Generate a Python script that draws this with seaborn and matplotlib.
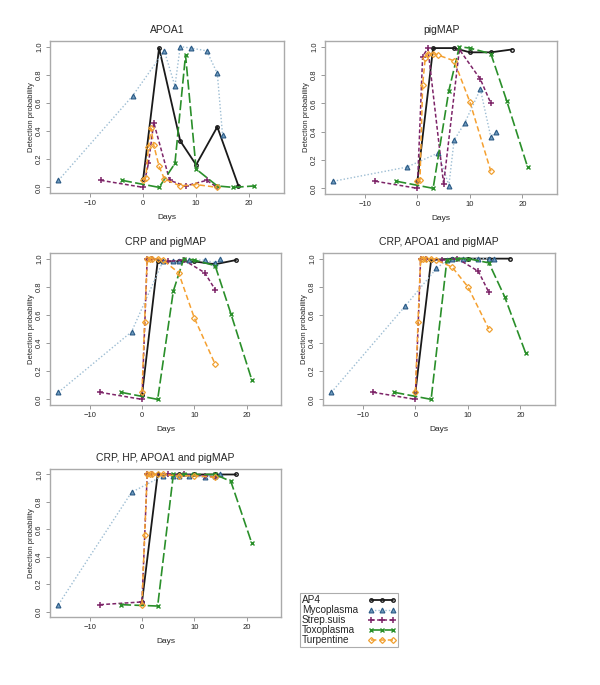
import pandas as pd
import seaborn as sns
from matplotlib import pyplot as plt
from matplotlib.offsetbox import DrawingArea

# dias de muestreo por grupo
days_ap4 = [0, 3, 7, 10, 14, 18]
days_myco = [-16, -2, 4, 6, 7, 9, 12, 14, 15]
days_strep = [-8, 0, 1, 2, 5, 8, 12, 14]
days_toxo = [-4, 3, 6, 8, 10, 14, 17, 21]
days_turp = [0, 0.5, 1, 1.5, 2, 3, 4, 7, 10, 14]

titles = ["APOA1", "pigMAP", "CRP and pigMAP",
          "CRP, APOA1 and pigMAP", "CRP, HP, APOA1 and pigMAP"]

# probabilidades (una lista por panel)
ap4_vals = [
    [0.06, 0.99, 0.33, 0.16, 0.43, 0.01],
    [0.05, 0.99, 0.99, 0.96, 0.96, 0.98],
    [0.03, 0.98, 0.98, 0.98, 0.96, 0.99],
    [0.05, 0.99, 1.0, 1.0, 1.0, 1.0],
    [0.07, 1.0, 1.0, 1.0, 1.0, 1.0],
]
myco_vals = [
    [0.05, 0.65, 0.97, 0.72, 1.0, 0.99, 0.97, 0.81, 0.37],
    [0.05, 0.15, 0.25, 0.02, 0.34, 0.46, 0.70, 0.36, 0.40],
    [0.05, 0.48, 0.98, 0.98, 0.98, 0.99, 0.99, 0.97, 1.0],
    [0.05, 0.66, 0.93, 0.99, 1.0, 1.0, 1.0, 1.0, 1.0],
    [0.05, 0.87, 0.99, 0.99, 0.99, 0.99, 0.98, 0.99, 1.0],
]
strep_vals = [
    [0.05, 0.0, 0.17, 0.46, 0.05, 0.01, 0.05, 0.0],
    [0.05, 0.0, 0.93, 0.99, 0.03, 0.98, 0.77, 0.60],
    [0.05, 0.0, 1.0, 1.0, 0.98, 0.99, 0.90, 0.78],
    [0.05, 0.0, 1.0, 1.0, 0.99, 1.0, 0.91, 0.76],
    [0.05, 0.07, 1.0, 1.0, 1.0, 1.0, 0.99, 0.98],
]
toxo_vals = [
    [0.05, 0.0, 0.17, 0.94, 0.13, 0.01, 0.0, 0.01],
    [0.05, 0.0, 0.69, 1.0, 0.99, 0.95, 0.62, 0.15],
    [0.05, 0.0, 0.77, 1.0, 0.99, 0.95, 0.61, 0.14],
    [0.05, 0.0, 0.99, 1.0, 1.0, 0.97, 0.73, 0.33],
    [0.05, 0.04, 1.0, 1.0, 1.0, 1.0, 0.95, 0.50],
]
turp_vals = [
    [0.05, 0.07, 0.29, 0.42, 0.30, 0.15, 0.06, 0.01, 0.02, 0.0],
    [0.05, 0.06, 0.73, 0.92, 0.95, 0.95, 0.94, 0.90, 0.61, 0.12],
    [0.05, 0.55, 1.0, 1.0, 1.0, 1.0, 0.99, 0.90, 0.58, 0.25],
    [0.05, 0.55, 1.0, 1.0, 1.0, 1.0, 0.99, 0.94, 0.80, 0.50],
    [0.05, 0.56, 1.0, 1.0, 1.0, 1.0, 1.0, 0.99, 0.99, 0.98],
]

series = [
    ("AP4", days_ap4, ap4_vals,
     dict(color="#1a1a1a", marker="o", ms=2.5, mfc="none", mec="#1a1a1a", mew=1.0, lw=1.3, ls="-")),
    ("Mycoplasma", days_myco, myco_vals,
     dict(color="#9dbdd3", marker="^", ms=3.5, mfc="#6f9cc0", mec="#2b5a85", mew=0.8, lw=1.0, ls=(0, (1, 1.5)))),
    ("Strep.suis", days_strep, strep_vals,
     dict(color="#7d2468", marker="+", ms=4.5, mec="#7d2468", mew=1.1, lw=1.1, ls=(0, (2.5, 1.5)))),
    ("Toxoplasma", days_toxo, toxo_vals,
     dict(color="#2a8f2a", marker="x", ms=3.5, mec="#2a8f2a", mew=1.0, lw=1.2, ls=(0, (6, 2)))),
    ("Turpentine", days_turp, turp_vals,
     dict(color="#f5a030", marker="D", ms=3, mfc="none", mec="#f0a030", mew=0.9, lw=1.1, ls=(0, (3.5, 2)))),
]

sns.set_theme(style="ticks")
plt.rcParams["font.family"] = ["Liberation Sans", "DejaVu Sans"]

fig = plt.figure(figsize=(6, 6.85), dpi=100)
W, H = 600, 685
boxes = [(50, 41, 284, 193), (325, 41, 557, 194), (50, 253, 281, 405),
         (323, 253, 555, 405), (50, 469, 281, 617)]

axes = []
for i, (l, t, r, b) in enumerate(boxes):
    ax = fig.add_axes([l / W, 1 - b / H, (r - l) / W, (b - t) / H])
    for nombre, dias, vals, estilo in series:
        sns.lineplot(x=dias, y=vals[i], ax=ax, label=nombre, legend=False, **estilo)
    ax.set_xlim(-17.6, 26.6)
    ax.set_ylim(-0.04, 1.04)
    ax.set_xticks([-10, 0, 10, 20])
    ax.set_yticks([0, 0.2, 0.4, 0.6, 0.8, 1.0])
    ax.set_yticklabels(["0.0", "0.2", "0.4", "0.6", "0.8", "1.0"], rotation=90, va="center")
    ax.tick_params(labelsize=5.5, length=3, width=0.6, color="#888888", pad=2)
    for s in ax.spines.values():
        s.set_color("#aaaaaa")
        s.set_linewidth(1.0)
    ax.set_xlabel("Days", fontsize=6, labelpad=5)
    ax.set_ylabel("Detection probability", fontsize=5.5, labelpad=1)
    ax.set_title(titles[i], fontsize=7.5, pad=6)
    axes.append(ax)

handles, labels = axes[0].get_legend_handles_labels()
leg = fig.legend(handles, labels, loc="upper left", bbox_to_anchor=(300 / W, 1 - 593 / H),
                 fontsize=7.2, markerfirst=False, numpoints=3, handlelength=2.8,
                 frameon=True, fancybox=False, edgecolor="#999999", borderpad=0.2,
                 labelspacing=0.0, handletextpad=0.5, borderaxespad=0)
leg.get_frame().set_linewidth(0.8)

# texto alineado a la izquierda y muestras a la derecha
fig.canvas.draw()
rend = fig.canvas.get_renderer()
anchos = [t.get_window_extent(rend).width for t in leg.get_texts()]
maxw = max(anchos)
columna = leg._legend_handle_box.get_children()[0]
for fila, w in zip(columna.get_children(), anchos):
    hijos = fila.get_children()
    fila._children = [hijos[0], DrawingArea((maxw - w) * 72 / fig.dpi, 1), hijos[1]]

fig.savefig("out.png", dpi=100)
